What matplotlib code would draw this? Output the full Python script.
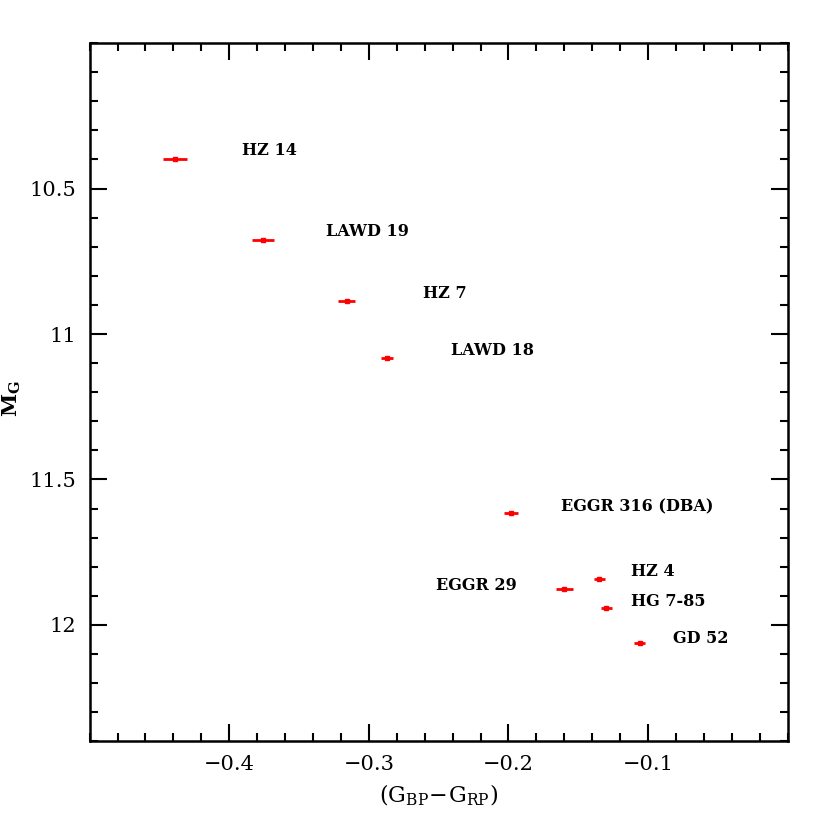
import numpy as np
import matplotlib
matplotlib.use("Agg")
from matplotlib import pyplot as plt
from matplotlib.ticker import MultipleLocator

# star data: colour, absolute G mag, colour error
names = ["HZ 14", "LAWD 19", "HZ 7", "LAWD 18", "EGGR 316 (DBA)",
         "HZ 4", "EGGR 29", "HG 7-85", "GD 52"]
bprp = [-0.439, -0.376, -0.316, -0.287, -0.198, -0.135, -0.160, -0.130, -0.106]
mg = [10.397, 10.678, 10.887, 11.082, 11.616, 11.842, 11.877, 11.942, 12.062]
err_bprp = [0.0085, 0.008, 0.006, 0.004, 0.005, 0.004, 0.006, 0.004, 0.004]

# label anchor positions (data coords) and alignment
lab_x = [-0.3907, -0.3307, -0.2614, -0.2414, -0.1621, -0.1121, -0.1943, -0.1121, -0.0821]
lab_y = [10.370, 10.647, 10.860, 11.058, 11.596, 11.815, 11.866, 11.918, 12.048]
lab_ha = ["left"] * 6 + ["right"] + ["left"] * 2

plt.rcParams['font.family'] = ['DejaVu Serif']
plt.rcParams['mathtext.fontset'] = 'dejavuserif'

fig = plt.figure(figsize=(8.3, 8.3), dpi=100, facecolor="w")
ax = fig.add_axes([0.108, 0.107, 0.841, 0.841])

ax.errorbar(bprp, mg, xerr=err_bprp, fmt='s', ms=2.5, color='red',
            ecolor='red', elinewidth=2, capsize=0)

for n, x, y, ha in zip(names, lab_x, lab_y, lab_ha):
    ax.text(x, y, n, ha=ha, va='center', fontsize=11.5, fontweight='bold')

ax.set_xlim(-0.5, 0.0)
ax.set_ylim(12.4, 10.0)
ax.xaxis.set_minor_locator(MultipleLocator(0.02))
ax.yaxis.set_minor_locator(MultipleLocator(0.1))
ax.set_xticks([-0.4, -0.3, -0.2, -0.1])
ax.set_xticklabels(["\u22120.4", "\u22120.3", "\u22120.2", "\u22120.1"])
ax.set_yticks([10.5, 11, 11.5, 12])
ax.set_yticklabels(["10.5", "11", "11.5", "12"])
ax.tick_params(which='both', direction='in', top=True, right=True, width=1.5,
               labelsize=15, pad=10)
ax.tick_params(which='major', length=12)
ax.tick_params(which='minor', length=6)
for s in ax.spines.values():
    s.set_linewidth(1.8)

ax.set_xlabel(r"$(\mathrm{G_{BP}\!-\!G_{RP}})$", fontsize=16, labelpad=6)
ax.set_ylabel(r"$\mathbf{M_G}$", fontsize=15)
ax.yaxis.set_label_coords(-0.095, 0.49)

plt.savefig("out.png", dpi=100)
